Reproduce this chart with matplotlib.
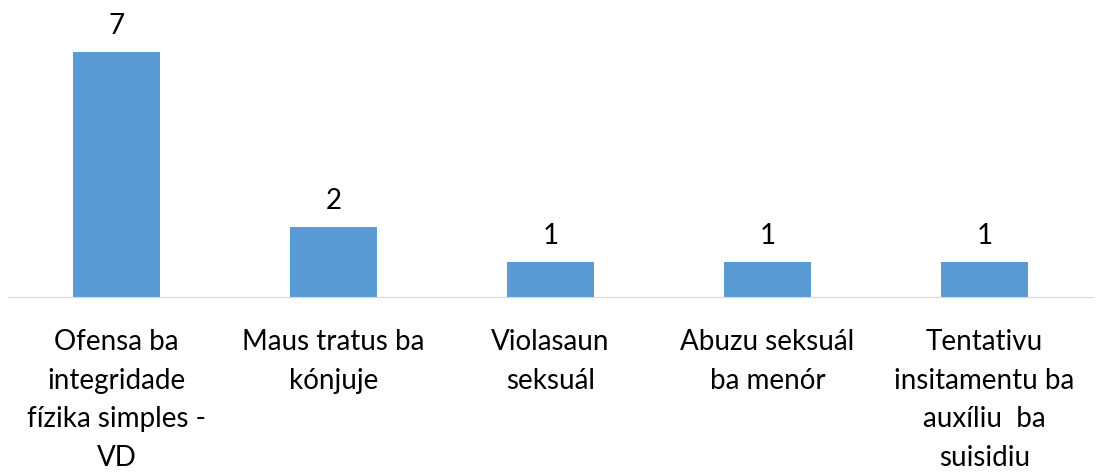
import matplotlib.pyplot as plt

# dadus
kategoria = ["Ofensa ba\nintegridade\nfízika simples -\nVD",
             "Maus tratus ba\nkónjuje",
             "Violasaun\nseksuál",
             "Abuzu seksuál\nba menór",
             "Tentativu\ninsitamentu ba\nauxíliu  ba\nsuisidiu"]
valor = [7, 2, 1, 1, 1]

plt.rcParams['font.family'] = ['Lato', 'DejaVu Sans']

fig = plt.figure(figsize=(10.99, 4.72), dpi=100)
ax = fig.add_axes([0.0073, 0.3708, 0.9872, 0.608])

x = range(len(valor))
bars = ax.bar(x, valor, width=0.4, color="#5B9BD5")
for b, v in zip(bars, valor):
    ax.text(b.get_x() + b.get_width() / 2, v + 0.38, str(v),
            ha="center", va="bottom", fontsize=20)

ax.set_xlim(-0.5, 4.5)
ax.set_ylim(0, 8.2)
ax.set_xticks(list(x))
ax.set_xticklabels(kategoria, fontsize=20, linespacing=1.6)
ax.tick_params(axis="x", length=0, pad=23)
ax.set_yticks([])
for s in ["top", "right", "left"]:
    ax.spines[s].set_visible(False)
ax.spines["bottom"].set_color("#D9D9D9")

fig.savefig("out.png", dpi=100)
